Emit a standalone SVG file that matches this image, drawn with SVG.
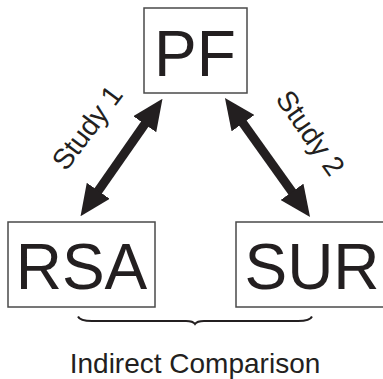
<svg xmlns="http://www.w3.org/2000/svg" width="383" height="379" viewBox="0 0 383 379">
  <style>
    .box { fill: #ffffff; stroke: #4a4a4a; stroke-width: 1.5; }
    .big { font-family: "Liberation Sans", Arial, sans-serif; font-size: 64px; fill: #231f20; text-anchor: middle; }
    .lbl { font-family: "Liberation Sans", Arial, sans-serif; font-size: 28.5px; fill: #231f20; text-anchor: middle; }
    .shaft { stroke: #231f20; stroke-width: 9; fill: none; }
    .brace { stroke: #231f20; stroke-width: 2; fill: none; }
  </style>
  <defs>
    <marker id="head" viewBox="0 -14 31 28" refX="1" refY="0" markerWidth="31" markerHeight="28" markerUnits="userSpaceOnUse" orient="auto-start-reverse">
      <path d="M0,-14 L31,0 L0,14 Z" fill="#231f20"/>
    </marker>
  </defs>
  <rect width="383" height="379" fill="#ffffff"/>
  <g id="connectors">
    <line class="shaft" x1="145.3" y1="123.4" x2="97.7" y2="191.6" marker-start="url(#head)" marker-end="url(#head)"/>
    <line class="shaft" x1="242.4" y1="122.4" x2="292.6" y2="192.6" marker-start="url(#head)" marker-end="url(#head)"/>
    <text class="lbl" transform="translate(95,133.5) rotate(-53)">Study 1</text>
    <text class="lbl" transform="translate(302.5,138.5) rotate(55)">Study 2</text>
  </g>
  <g id="PF">
    <rect class="box" x="144" y="8" width="103" height="85"/>
    <text class="big" x="195" y="76">PF</text>
  </g>
  <g id="RSA">
    <rect class="box" x="8" y="222" width="147" height="85"/>
    <text class="big" x="81.5" y="289">RSA</text>
  </g>
  <g id="SUR">
    <rect class="box" x="236" y="222" width="160" height="85"/>
    <text class="big" x="312" y="289">SUR</text>
  </g>
  <g id="brace">
    <path class="brace" d="M78,316.5 Q80,321 92,321 L186,321 Q193,321 195,324 Q197,321 204,321 L298,321 Q310,321 312,316.5"/>
  </g>
  <text x="195" y="373" style="font-family: 'Liberation Sans', Arial, sans-serif; font-size: 28px; fill: #231f20; text-anchor: middle;">Indirect Comparison</text>
</svg>
